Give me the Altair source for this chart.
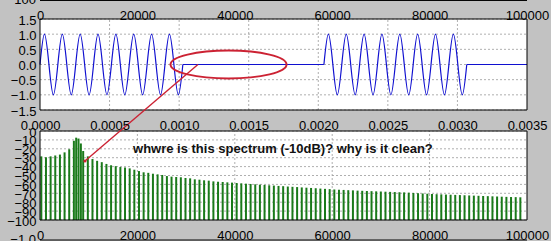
import altair as alt
import pandas as pd

# ---------------- data ----------------
T_TICKS = [0, 500, 1000, 1500, 2000, 2500, 3000, 3500]          # microseconds
F_TICKS = [0, 20000, 40000, 60000, 80000, 100000]               # Hz
AMP_TICKS = [-1.5, -1.0, -0.5, 0.0, 0.5, 1.0, 1.5]
DB_TICKS = [0, -10, -20, -30, -40, -50, -60, -70, -80, -90, -100]

# key points (zero crossings / peaks / troughs) of the two sine bursts, in microseconds
BURST1_T = [0.0, 32.1, 64.2, 96.2, 128.3, 160.4, 192.5, 224.6, 256.6, 288.7, 320.8,
            352.9, 385.0, 417.0, 449.1, 481.2, 513.3, 545.4, 577.4, 609.5, 641.6,
            673.7, 705.8, 737.8, 769.9, 802.0, 834.1, 866.2, 898.2, 930.3, 962.4,
            994.5, 1026.6]
BURST2_T = [2040.5, 2072.6, 2104.7, 2136.7, 2168.8, 2200.9, 2233.0, 2265.1, 2297.1,
            2329.2, 2361.3, 2393.4, 2425.5, 2457.5, 2489.6, 2521.7, 2553.8, 2585.9,
            2617.9, 2650.0, 2682.1, 2714.2, 2746.3, 2778.3, 2810.4, 2842.5, 2874.6,
            2906.7, 2938.7, 2970.8, 3002.9, 3035.0, 3067.1]
BURST_AMP = [0, 1, 0, -1, 0, 1, 0, -1, 0, 1, 0, -1, 0, 1, 0, -1, 0, 1, 0, -1,
             0, 1, 0, -1, 0, 1, 0, -1, 0, 1, 0, -1, 0]
FLAT_START = [1026.6, 3067.1]
FLAT_END = [2040.5, 3500.0]

FREQS = [270, 1225, 2180, 3135, 4090, 5045, 6000, 6955, 7430, 7910, 8390, 8865,
         9820, 10775, 11730, 12685, 13640, 14595, 15550, 16505, 17460, 18415, 19370,
         20325, 21280, 22235, 23190, 24145, 25100, 26055, 27010, 27965, 28920, 29875,
         30830, 31785, 32740, 33695, 34650, 35605, 36560, 37515, 38470, 39425, 40380,
         41335, 42290, 43245, 44200, 45155, 46110, 47065, 48020, 48975, 49930, 50885,
         51840, 52795, 53750, 54705, 55660, 56615, 57570, 58525, 59480, 60435, 61390,
         62345, 63300, 64255, 65210, 66165, 67120, 68075, 69030, 69985, 70940, 71895,
         72850, 73805, 74760, 75715, 76670, 77625, 78580, 79535, 80490, 81445, 82400,
         83355, 84310, 85265, 86220, 87175, 88130, 89085, 90040, 90995, 91950, 92905,
         93860, 94815, 95770, 96725, 97680, 98635]
DB = [-28.5, -29.5, -28.5, -27.5, -26.5, -24, -20.5, -11, -7.5, -8.5, -14, -22.5,
      -28.5, -31.5, -33.5, -35, -37, -38.5, -39.5, -40.5, -41, -42, -43.5,
      -45, -46.4, -47, -48, -48.7, -49.4, -50.6, -51.3, -51.7, -52, -52.8,
      -53.2, -54.3, -54.7, -55.4, -55.8, -56.6, -57, -57.3, -57.7, -58, -58.4,
      -58.8, -59.2, -59.5, -59.9, -60.3, -60.6, -61, -61.3, -61.7, -62, -62.4,
      -62.7, -63, -63.4, -63.7, -64, -64.3, -64.7, -65, -65.3, -65.7, -66,
      -66.2, -66.5, -66.7, -67, -67.2, -67.4, -67.6, -67.8, -68, -68.2, -68.4,
      -68.6, -68.8, -69, -69.3, -69.6, -69.9, -70.2, -70.5, -70.8, -71, -71.2,
      -71.4, -71.6, -71.8, -72, -72.2, -72.4, -72.6, -72.8, -73, -73.2, -73.4,
      -73.6, -73.8, -74, -74.2, -74.3, -74.5]

NOTE = "whwre is this spectrum (-10dB)? why is it clean?"

# ---------------- layout / style ----------------
W, H = 487, 201
TOP_H = 91
BOT_TOP = 112
FONT = "Liberation Sans"
BLUE = "#1010d0"
GREEN = "#1a7a1a"
RED = "#cc2233"
GRID = "#9a9a9a"
BG = "#c2c2c2"

TX = alt.Scale(domain=[0, 3500], range=[0, W], nice=False, zero=False)
FX = alt.Scale(domain=[0, 100000], range=[0, W], nice=False, zero=False)
TY = alt.Scale(domain=[-1.5, 1.5], range=[TOP_H, 0], nice=False, zero=False)
BY = alt.Scale(domain=[-100, 0], range=[H, BOT_TOP], nice=False, zero=False)

one = pd.DataFrame({"k": [0]})


def ax(**kw):
    base = dict(ticks=False, tickSize=0, domain=False, grid=False, labelFont=FONT,
                labelFontSize=13, labelColor="black", labelOverlap=False,
                labelFlush=False, zindex=1, title=None)
    base.update(kw)
    return alt.Axis(**base)


time_axis = ax(orient="bottom", offset=-(H - TOP_H), values=T_TICKS,
               labelExpr="format(datum.value / 1000000, '.4f')",
               labelBaseline="alphabetic", labelPadding=19)
ftop_axis = ax(orient="top", values=F_TICKS, format="d",
               labelBaseline="alphabetic", labelPadding=0)
fbot_axis = ax(orient="bottom", values=F_TICKS, format="d",
               labelBaseline="alphabetic", labelPadding=19)
amp_axis = ax(orient="left", values=AMP_TICKS, format=".1f", labelPadding=4,
              labelOffset=1)
db_axis = ax(orient="left", values=DB_TICKS, format="d", labelPadding=4,
             labelOffset=1)


def tx(v):
    return alt.XDatum(v, type="quantitative", scale=TX, axis=None)


def fx(v):
    return alt.XDatum(v, type="quantitative", scale=FX, axis=None)


def ty(v):
    return alt.YDatum(v, type="quantitative", scale=TY, axis=None)


def by(v):
    return alt.YDatum(v, type="quantitative", scale=BY, axis=None)


# frames (white plot areas)
top_bg = alt.Chart(one).mark_rect(fill="white", strokeWidth=0).encode(
    x=tx(0), x2=alt.X2Datum(3500), y=ty(-1.5), y2=alt.Y2Datum(1.5))
bot_bg = alt.Chart(one).mark_rect(fill="white", strokeWidth=0).encode(
    x=fx(0), x2=alt.X2Datum(100000), y=by(-100), y2=alt.Y2Datum(0))

# grids (carry the axes)
top_vgrid = alt.Chart(pd.DataFrame({"t": T_TICKS[1:-1]})).mark_rule(
    color=GRID, strokeDash=[2, 2], strokeWidth=0.8).encode(
    x=alt.X("t:Q", scale=TX, axis=time_axis), y=ty(-1.5), y2=alt.Y2Datum(1.5))
top_hgrid = alt.Chart(pd.DataFrame({"amp": AMP_TICKS})).mark_rule(
    color=GRID, strokeDash=[2, 2], strokeWidth=0.8).encode(
    y=alt.Y("amp:Q", scale=TY, axis=amp_axis), x=tx(0), x2=alt.X2Datum(3500))
bot_vgrid = alt.Chart(pd.DataFrame({"f": F_TICKS[1:-1]})).mark_rule(
    color=GRID, strokeDash=[2, 2], strokeWidth=0.8).encode(
    x=alt.X("f:Q", scale=FX, axis=ftop_axis), y=by(-100), y2=alt.Y2Datum(0))
bot_hgrid = alt.Chart(pd.DataFrame({"db": DB_TICKS})).mark_rule(
    color=GRID, strokeDash=[2, 2], strokeWidth=0.8).encode(
    y=alt.Y("db:Q", scale=BY, axis=db_axis), x=fx(0), x2=alt.X2Datum(100000))

# signal
sig = pd.DataFrame({"t": BURST1_T + BURST2_T,
                    "amp": BURST_AMP + BURST_AMP,
                    "burst": [1] * len(BURST1_T) + [2] * len(BURST2_T)})
bursts = alt.Chart(sig).mark_line(interpolate="natural", color=BLUE, strokeWidth=1.2).encode(
    x=alt.X("t:Q", scale=TX, axis=None), y=alt.Y("amp:Q", scale=TY, axis=None),
    detail="burst:N")
flat = alt.Chart(pd.DataFrame({"t0": FLAT_START, "t1": FLAT_END})).mark_rule(
    color=BLUE, strokeWidth=1.2).encode(
    x=alt.X("t0:Q", scale=TX, axis=None), x2="t1:Q", y=ty(0))

# spectrum stems
spec = pd.DataFrame({"f": FREQS, "db": DB})
stems = alt.Chart(spec).mark_rule(color=GREEN, strokeWidth=2).encode(
    x=alt.X("f:Q", scale=FX, axis=fbot_axis), y=alt.Y("db:Q", scale=BY, axis=None),
    y2=alt.Y2Datum(-100))

# frame outlines on top
top_frame = alt.Chart(one).mark_rect(fillOpacity=0, stroke="black", strokeWidth=1).encode(
    x=tx(0), x2=alt.X2Datum(3500), y=ty(-1.5), y2=alt.Y2Datum(1.5))
bot_frame = alt.Chart(one).mark_rect(fillOpacity=0, stroke="black", strokeWidth=1).encode(
    x=fx(0), x2=alt.X2Datum(100000), y=by(-100), y2=alt.Y2Datum(0))

# annotations
ELLIPSE = ("M -1 0 C -1 -0.1333 -0.5523 -0.2414 0 -0.2414 "
           "C 0.5523 -0.2414 1 -0.1333 1 0 C 1 0.1333 0.5523 0.2414 0 0.2414 "
           "C -0.5523 0.2414 -1 0.1333 -1 0 Z")
ellipse = alt.Chart(one).mark_point(shape=ELLIPSE, size=13456, filled=False,
                                    stroke=RED, strokeWidth=2, opacity=1).encode(
    x=tx(1355), y=ty(0))
arrow = alt.Chart(one).mark_rule(color=RED, strokeWidth=1.4).encode(
    x=tx(1135), y=ty(0), x2=alt.X2Datum(323), y2=alt.Y2Datum(-3.18))
arrow_dot = alt.Chart(one).mark_point(filled=True, color=RED, size=10, opacity=1).encode(
    x=tx(323), y=ty(-3.18))
note = alt.Chart(one).mark_text(text=NOTE, align="left", baseline="alphabetic",
                                font=FONT, fontWeight="bold", fontSize=13,
                                color="#111111").encode(
    x=fx(19100), y=by(-24.4))

# remnants of neighbouring panels cut by the screenshot
above_line = alt.Chart(one).mark_rule(color="black", strokeWidth=1).encode(
    x=tx(0), x2=alt.X2Datum(3500), y=ty(2.11))
above_label = alt.Chart(one).mark_text(text="\u2212100", align="right", baseline="alphabetic",
                                       font=FONT, fontSize=13, color="black").encode(
    x=tx(-29), y=ty(2.0))
below_line = alt.Chart(one).mark_rule(color="black", strokeWidth=1).encode(
    x=fx(0), x2=alt.X2Datum(100000), y=by(-122.5))
below_label = alt.Chart(one).mark_text(text="\u22121.0", align="right", baseline="middle",
                                       font=FONT, fontSize=13, color="black").encode(
    x=fx(-821), y=by(-123))

chart = alt.layer(
    top_bg, bot_bg,
    top_vgrid, top_hgrid, bot_vgrid, bot_hgrid,
    bursts, flat, stems,
    top_frame, bot_frame,
    above_line, above_label, below_line, below_label,
    ellipse, arrow, arrow_dot, note,
).resolve_scale(x="independent", y="independent").properties(
    width=W, height=H,
    autosize=alt.AutoSizeParams(type="none"),
    padding={"left": 40, "top": 19, "right": 24, "bottom": 21},
    background=BG,
).configure_view(stroke=None)

chart.save("out.html", embed_options={"renderer": "svg", "actions": False})
